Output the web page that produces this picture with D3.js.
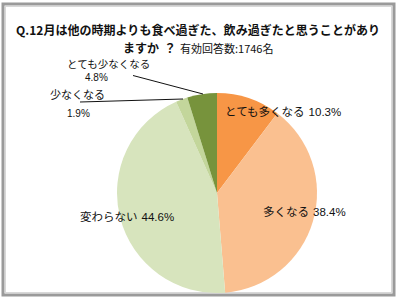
<!DOCTYPE html>
<html lang="ja">
<head>
<meta charset="utf-8">
<title>12月の食べ過ぎ・飲み過ぎ</title>
<script src="https://cdn.jsdelivr.net/npm/d3@7"></script>
<style>
  body { margin: 0; background: #fff; }
  text { font-family: "Noto Sans CJK JP", sans-serif; fill: #111; }
  .num { font-family: "Liberation Sans", Arial, sans-serif; }
</style>
</head>
<body>
<script>
// data
var labels = ["とても多くなる", "多くなる", "変わらない", "少なくなる", "とても少なくなる"];
var values = [10.3, 38.4, 44.6, 1.9, 4.8];
var colors = ["#f79646", "#fac090", "#d7e4bd", "#c3d69b", "#77933c"];
var titleLine1 = "Q.12月は他の時期よりも食べ過ぎた、飲み過ぎたと思うことがあり";
var titleLine2 = "ますか";
var titleMark = "？";
var titleNote = "有効回答数:1746名";

var w = 400, h = 303;
var cx = 217, cy = 193, r = 100;

var svg = d3.select("body").append("svg")
  .attr("width", w)
  .attr("height", h);

svg.append("defs").append("clipPath").attr("id", "inner")
  .append("rect").attr("x", 5).attr("y", 6).attr("width", 388).attr("height", 287);

// frame
svg.append("rect").attr("x", 3).attr("y", 4).attr("width", 391).attr("height", 291)
  .attr("fill", "none").attr("stroke", "#9a9a9a").attr("stroke-width", 3);
svg.append("rect").attr("x", 5.5).attr("y", 6.5).attr("width", 386).attr("height", 286)
  .attr("fill", "none").attr("stroke", "#d8d8d8").attr("stroke-width", 1);

// title
svg.append("text")
  .attr("x", 198).attr("y", 34.5)
  .attr("text-anchor", "middle")
  .attr("font-size", "12px")
  .attr("font-weight", "bold")
  .attr("textLength", 364)
  .text(titleLine1);

svg.append("text").attr("x", 123).attr("y", 52.5)
  .attr("font-size", "12px").attr("font-weight", "bold").text(titleLine2);
svg.append("text").attr("x", 164).attr("y", 52.5)
  .attr("font-size", "12px").attr("font-weight", "bold").text(titleMark);
svg.append("text").attr("x", 180).attr("y", 52.5)
  .attr("font-size", "11px").text(titleNote);

// pie
var pie = d3.pie().sort(null).value(function(d) { return d; });
var arc = d3.arc().innerRadius(0).outerRadius(r);

svg.append("g")
  .attr("clip-path", "url(#inner)")
  .append("g")
  .attr("transform", "translate(" + cx + "," + cy + ")")
  .selectAll("path")
  .data(pie(values))
  .enter()
  .append("path")
  .attr("d", arc)
  .attr("fill", function(d, i) { return colors[i]; });

// leader lines
svg.append("line").attr("x1", 133).attr("y1", 75.5).attr("x2", 203).attr("y2", 94)
  .attr("stroke", "#111").attr("stroke-width", 1);
svg.append("line").attr("x1", 80).attr("y1", 102).attr("x2", 183).attr("y2", 99)
  .attr("stroke", "#111").attr("stroke-width", 1);

// labels
function label(x, y, name, pct, sep) {
  var t = svg.append("text").attr("x", x).attr("y", y).attr("font-size", "11.5px");
  t.append("tspan").text(name);
  t.append("tspan").attr("class", "num").attr("dx", sep).text(pct.toFixed(1) + "%");
}
label(225, 116, labels[0], values[0], 4);
label(263, 216, labels[1], values[1], 4);
label(80, 221, labels[2], values[2], 4);

svg.append("text").attr("x", 50).attr("y", 99).attr("font-size", "11px").text(labels[3]);
svg.append("text").attr("class", "num").attr("x", 67).attr("y", 117).attr("font-size", "10px")
  .text(values[3].toFixed(1) + "%");
svg.append("text").attr("x", 67).attr("y", 67.5).attr("font-size", "10.5px").text(labels[4]);
svg.append("text").attr("class", "num").attr("x", 85).attr("y", 81).attr("font-size", "10px")
  .text(values[4].toFixed(1) + "%");
</script>
</body>
</html>
